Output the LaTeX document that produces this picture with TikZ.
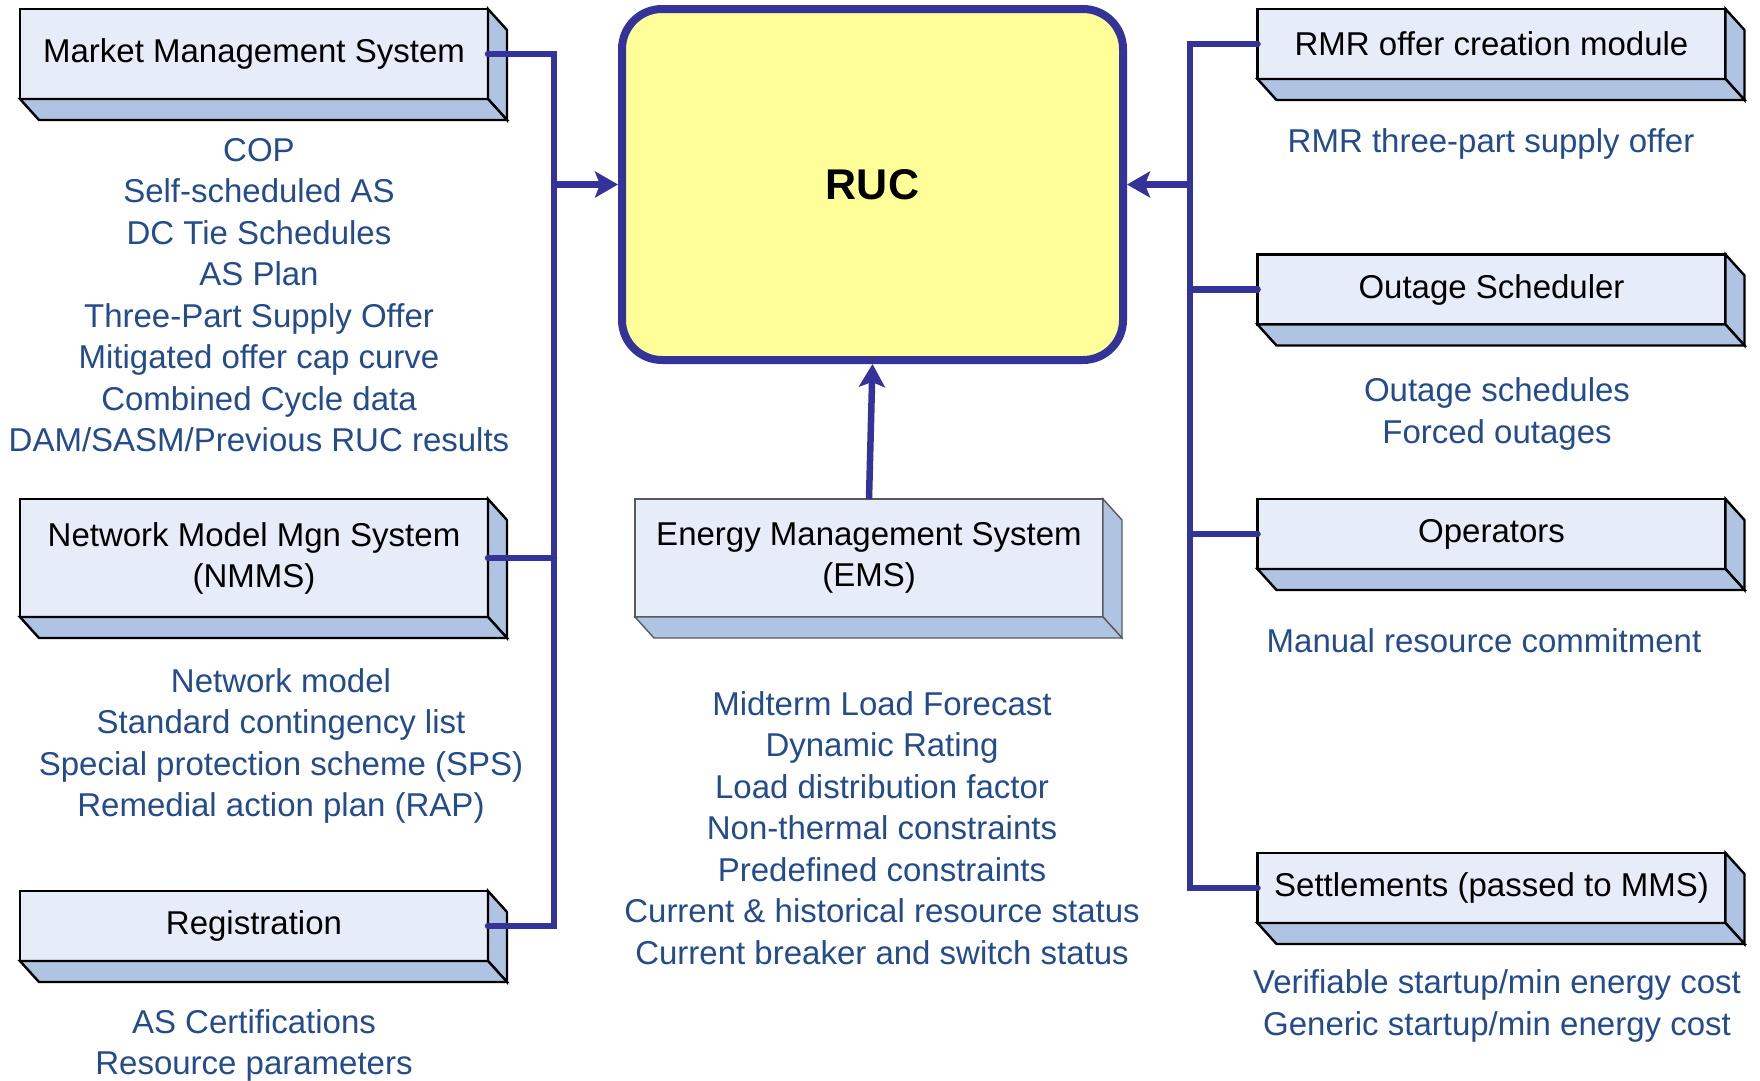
\documentclass[tikz,border=0pt]{standalone}
\usepackage{fontspec}
\setmainfont{Liberation Sans}
\usetikzlibrary{arrows.meta}

\definecolor{flow}{RGB}{51,51,153}
\definecolor{datablue}{RGB}{36,75,140}
\definecolor{faceblue}{RGB}{230,236,248}
\definecolor{sideblue}{RGB}{175,196,227}
\definecolor{rucyellow}{RGB}{255,255,153}

\tikzset{
  sysbox/.style={draw=black, line width=2.4pt, fill=faceblue, outer sep=0pt,
    inner sep=0pt, align=center, font=\fontsize{33}{41}\selectfont,
    minimum width=468pt},
  emsbox/.style={sysbox, draw=black!65, line width=1.4pt},
  face/.style={draw=black, line width=2.4pt, fill=sideblue},
  emsface/.style={face, draw=black!65, line width=1.4pt},
  datalist/.style={text=datablue, align=center, inner sep=0pt,
    font=\fontsize{33}{41.5}\selectfont},
  bus/.style={draw=flow, line width=6.5pt, line cap=round},
  feed/.style={draw=flow, line width=6.5pt,
    -{Stealth[length=23pt,width=26pt,inset=5pt]}},
}

% side and bottom faces of an extruded box
\newcommand\extrude[2][face]{%
  \draw[#1] (#2.north east) -- ([shift={(19,21)}]#2.north east)
    -- ([shift={(19,21)}]#2.south east) -- (#2.south east) -- cycle;
  \draw[#1] (#2.south west) -- (#2.south east)
    -- ([shift={(19,21)}]#2.south east) -- ([shift={(19,21)}]#2.south west) -- cycle;}

\begin{document}
\begin{tikzpicture}[x=1pt,y=-1pt]
\useasboundingbox (0,0) rectangle (1760,1080);

% central block
\node[draw=flow, line width=8pt, fill=rucyellow, rounded corners=40pt,
  minimum width=501pt, minimum height=351pt,
  font=\bfseries\fontsize{43}{50}\selectfont] (ruc) at (872.5,184.5) {RUC};

% left-hand sources
\node[sysbox, minimum height=90pt] (mms) at (254,54) {Market Management System};
\extrude{mms}
\node[sysbox, minimum height=118pt] (nmms) at (254,558) {Network Model Mgn System\\(NMMS)};
\extrude{nmms}
\node[sysbox, minimum height=70pt] (reg) at (254,926) {Registration};
\extrude{reg}

% centre source
\node[emsbox, minimum height=118pt] (ems) at (869,558) {Energy Management System\\(EMS)};
\extrude[emsface]{ems}

% right-hand sources
\node[sysbox, minimum height=70pt] (rmr) at (1491.5,44) {RMR offer creation module};
\extrude{rmr}
\node[sysbox, minimum height=70pt] (osched) at (1491.5,289.5) {Outage Scheduler};
\extrude{osched}
\node[sysbox, minimum height=70pt] (ops) at (1491.5,534) {Operators};
\extrude{ops}
\node[sysbox, minimum height=70pt] (settle) at (1491.5,888) {Settlements (passed to MMS)};
\extrude{settle}

% data items supplied by each source
\node[datalist] (mmsdata) at (259,295) {COP\\Self-scheduled AS\\DC Tie Schedules\\AS Plan\\Three-Part Supply Offer\\Mitigated offer cap curve\\Combined Cycle data\\DAM/SASM/Previous RUC results};
\node[datalist] (nmmsdata) at (281,746) {Network model\\Standard contingency list\\Special protection scheme (SPS)\\Remedial action plan (RAP)};
\node[datalist] (regdata) at (254,1045.5) {AS Certifications\\Resource parameters};
\node[datalist] (emsdata) at (882,828) {Midterm Load Forecast\\Dynamic Rating\\Load distribution factor\\Non-thermal constraints\\Predefined constraints\\Current \& historical resource status\\Current breaker and switch status};
\node[datalist] (rmrdata) at (1491,143.5) {RMR three-part supply offer};
\node[datalist] (oscheddata) at (1497,414) {Outage schedules\\Forced outages};
\node[datalist] (opsdata) at (1484,641) {Manual resource commitment};
\node[datalist] (settledata) at (1497,1006) {Verifiable startup/min energy cost\\Generic startup/min energy cost};

% collector buses
\coordinate (lbus) at (554,0);
\coordinate (rbus) at (1190,0);

\draw[bus] (mms.east) -| (lbus |- reg.east) -- (reg.east);
\draw[bus] (nmms.east) -- (lbus |- nmms.east);
\draw[feed] (lbus |- ruc.west) -- (ruc.west);

\draw[bus] (rmr.west) -| (rbus |- settle.west) -- (settle.west);
\draw[bus] (osched.west) -- (rbus |- osched.west);
\draw[bus] (ops.west) -- (rbus |- ops.west);
\draw[feed] (rbus |- ruc.east) -- (ruc.east);

\draw[feed] (ems.north) -- (ruc.south);
\end{tikzpicture}
\end{document}
